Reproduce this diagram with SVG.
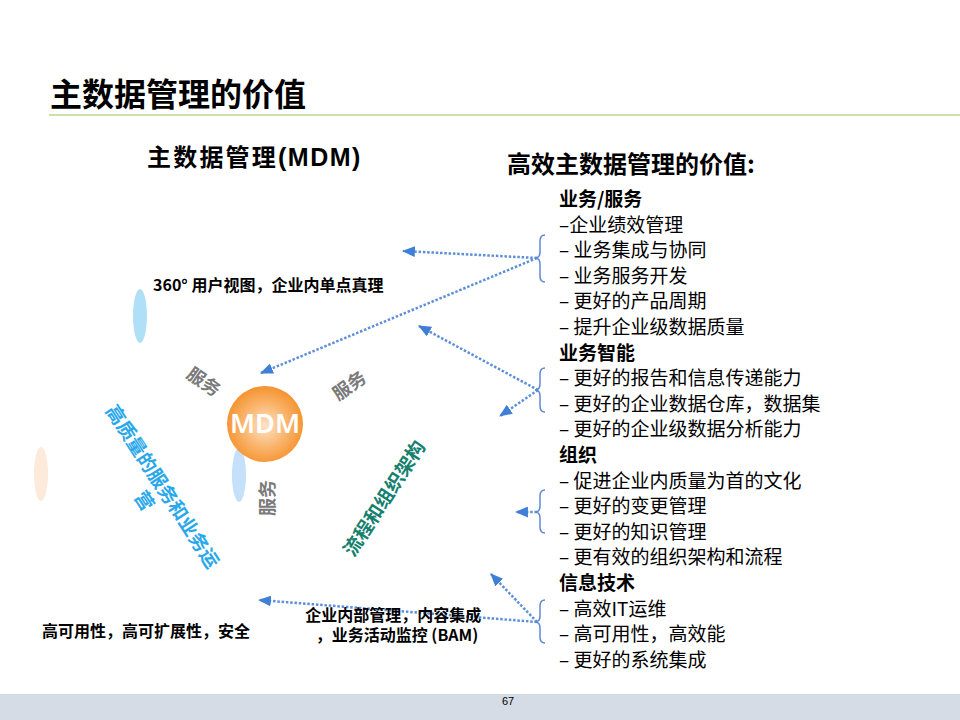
<svg xmlns="http://www.w3.org/2000/svg" width="960" height="720" viewBox="0 0 960 720">
<style>
  .cjk { font-family: "Noto Sans CJK SC", "Liberation Sans", sans-serif; }
  .title { font-size: 32px; font-weight: bold; fill: #000; }
  .sub { font-size: 23px; font-weight: bold; fill: #000; }
  .item { font-size: 19px; fill: #000; }
  .head { font-size: 19px; font-weight: bold; fill: #000; }
  .lbl { font-size: 16px; font-weight: bold; fill: #000; }
  .svc { font-size: 18px; font-weight: bold; fill: #7a7a7a; }
  .rot { font-size: 19px; font-weight: bold; }
  .conn { fill: none; stroke: #5b8fd9; stroke-width: 2.5; stroke-dasharray: 2.5 1.8; marker-end: url(#ah); }
  .brace { fill: none; stroke: #5b8ad3; stroke-width: 1.5; }
</style>
<defs>
  <marker id="ah" viewBox="0 0 12 10" refX="11" refY="5" markerWidth="13" markerHeight="11" markerUnits="userSpaceOnUse" orient="auto">
    <path d="M0,0 L12,5 L0,10 Z" fill="#3f7fd6"/>
  </marker>
  <radialGradient id="orb" cx="50%" cy="52%" r="52%">
    <stop offset="0" stop-color="#fde3c6"/>
    <stop offset="0.55" stop-color="#fab56e"/>
    <stop offset="1" stop-color="#f5932f"/>
  </radialGradient>
</defs>

<rect x="0" y="0" width="960" height="720" fill="#ffffff"/>

<g id="header">
  <text class="cjk title" x="50" y="106">主数据管理的价值</text>
  <line x1="49" y1="115" x2="960" y2="115" stroke="#bad98f" stroke-width="1.5"/>
</g>

<g id="footer">
  <rect x="0" y="694" width="960" height="26" fill="#d5dce6"/>
  <text x="508" y="705" font-family="Liberation Sans, sans-serif" font-size="11" text-anchor="middle" fill="#000">67</text>
</g>

<g id="mdm-title">
  <text class="cjk sub" x="147" y="166" style="font-size:24px"><tspan letter-spacing="2.2">主数据管理</tspan><tspan font-family="Liberation Sans, sans-serif" font-size="25" letter-spacing="1.5">(MDM)</tspan></text>
</g>

<g id="ellipses">
  <ellipse cx="140" cy="316" rx="7" ry="27" fill="#b0e0f8"/>
  <ellipse cx="41" cy="474" rx="7" ry="27" fill="#fdeada"/>
  <ellipse cx="239" cy="475" rx="7" ry="27" fill="#c4e0fb"/>
</g>

<g id="mdm">
  <circle cx="265" cy="424" r="38" fill="url(#orb)"/>
  <text x="265" y="433" font-family="Noto Sans, sans-serif" font-size="27" font-weight="600" fill="#ffffff" text-anchor="middle">MDM</text>
</g>

<g id="rotated-labels">
  <text class="cjk svc" transform="translate(200,387) rotate(35)" text-anchor="middle">服务</text>
  <text class="cjk svc" transform="translate(353,391) rotate(-35)" text-anchor="middle">服务</text>
  <text class="cjk svc" transform="translate(274,498) rotate(-90)" text-anchor="middle">服务</text>
  <text class="cjk rot" fill="#16806f" transform="translate(390,502) rotate(-57)" text-anchor="middle">流程和组织架构</text>
  <text class="cjk rot" fill="#2aa8ea" transform="translate(158,492) rotate(57)" text-anchor="middle">
    <tspan x="0" y="0">高质量的服务和业务运</tspan>
    <tspan x="0" y="23">营</tspan>
  </text>
</g>

<g id="connectors">
  <path class="conn" d="M537,258 L403,251"/>
  <path class="conn" d="M537,258 L261,373"/>
  <path class="conn" d="M538,390 L419,326"/>
  <path class="conn" d="M538,390 L500,416"/>
  <path class="conn" d="M537,512 L516,512"/>
  <path class="conn" d="M537,622 L491,574"/>
  <path class="conn" d="M537,622 L259,600"/>
</g>

<g id="left-labels">
  <text class="cjk lbl" x="153" y="291">360° 用户视图，企业内单点真理</text>
  <text class="cjk lbl" x="42" y="637">高可用性，高可扩展性，安全</text>
  <text class="cjk lbl" text-anchor="middle">
    <tspan x="395" y="620.5">企业内部管理，内容集成</tspan>
    <tspan x="397" y="640.5">，业务活动监控 (BAM)</tspan>
  </text>
</g>

<g id="braces">
  <path class="brace" d="M545,235 Q540,235 540,241 L540,252 Q540,258 535,258 Q540,258 540,264 L540,276 Q540,282 545,282"/>
  <path class="brace" d="M545,368 Q540,368 540,374 L540,384 Q540,390 535,390 Q540,390 540,396 L540,406 Q540,412 545,412"/>
  <path class="brace" d="M545,490 Q540,490 540,496 L540,506 Q540,512 535,512 Q540,512 540,518 L540,527 Q540,533 545,533"/>
  <path class="brace" d="M545,600 Q540,600 540,606 L540,616 Q540,622 535,622 Q540,622 540,628 L540,637 Q540,643 545,643"/>
</g>

<g id="value-list">
  <text class="cjk sub" x="507" y="173" style="font-size:24px">高效主数据管理的价值:</text>
  <text class="cjk head" x="559" y="206">业务/服务</text>
  <text class="cjk item" x="559" y="231.6">–企业绩效管理</text>
  <text class="cjk item" x="559" y="257.2">– 业务集成与协同</text>
  <text class="cjk item" x="559" y="282.8">– 业务服务开发</text>
  <text class="cjk item" x="559" y="308.4">– 更好的产品周期</text>
  <text class="cjk item" x="559" y="334">– 提升企业级数据质量</text>
  <text class="cjk head" x="559" y="359.6">业务智能</text>
  <text class="cjk item" x="559" y="385.2">– 更好的报告和信息传递能力</text>
  <text class="cjk item" x="559" y="410.8">– 更好的企业数据仓库，数据集</text>
  <text class="cjk item" x="559" y="436.4">– 更好的企业级数据分析能力</text>
  <text class="cjk head" x="559" y="462">组织</text>
  <text class="cjk item" x="559" y="487.6">– 促进企业内质量为首的文化</text>
  <text class="cjk item" x="559" y="513.2">– 更好的变更管理</text>
  <text class="cjk item" x="559" y="538.8">– 更好的知识管理</text>
  <text class="cjk item" x="559" y="564.4">– 更有效的组织架构和流程</text>
  <text class="cjk head" x="559" y="590">信息技术</text>
  <text class="cjk item" x="559" y="615.6">– 高效IT运维</text>
  <text class="cjk item" x="559" y="641.2">– 高可用性，高效能</text>
  <text class="cjk item" x="559" y="666.8">– 更好的系统集成</text>
</g>
</svg>
